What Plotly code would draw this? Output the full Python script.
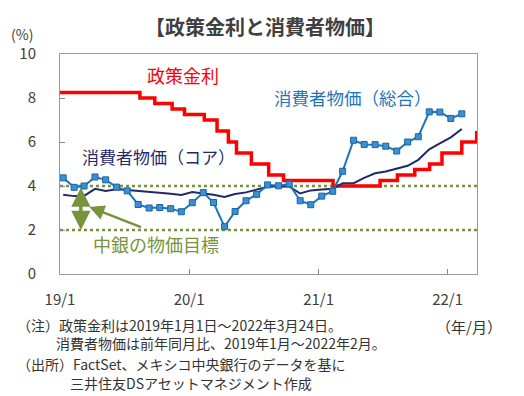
import plotly.graph_objects as go

# ---- data ----
cpi_months = [f"{y}-{m:02d}-10" for y in (2019, 2020, 2021) for m in range(1, 13)] + ["2022-01-10", "2022-02-10"]
cpi_headline = [4.37, 3.94, 4.00, 4.41, 4.28, 3.95, 3.78, 3.16, 3.00, 3.02, 2.97, 2.83,
                3.24, 3.70, 3.25, 2.15, 2.84, 3.33, 3.62, 4.05, 4.01, 4.09, 3.33, 3.15,
                3.54, 3.76, 4.67, 6.08, 5.89, 5.88, 5.81, 5.59, 6.00, 6.24, 7.37, 7.36,
                7.07, 7.28]
cpi_core = [3.60, 3.54, 3.55, 3.87, 3.77, 3.85, 3.82, 3.78, 3.75, 3.68, 3.65, 3.59,
            3.73, 3.66, 3.60, 3.50, 3.64, 3.71, 3.85, 3.97, 3.99, 3.98, 3.66, 3.80,
            3.84, 3.87, 4.12, 4.13, 4.37, 4.58, 4.66, 4.78, 4.92, 5.19, 5.67, 5.94,
            6.21, 6.59]
rate_dates = ["2019-01-01", "2019-08-15", "2019-09-26", "2019-11-14", "2019-12-19",
              "2020-02-13", "2020-03-20", "2020-04-21", "2020-05-14", "2020-06-25",
              "2020-08-13", "2020-09-24", "2021-02-11", "2021-06-24", "2021-08-12",
              "2021-09-30", "2021-11-11", "2021-12-16", "2022-02-10", "2022-03-24"]
rate_values = [8.25, 8.00, 7.75, 7.50, 7.25, 7.00, 6.50, 6.00, 5.50, 5.00,
               4.50, 4.25, 4.00, 4.25, 4.50, 4.75, 5.00, 5.50, 6.00, 6.50]
target_band = [2, 4]
x_start, x_end = "2019-01-01", "2022-03-25"
xtick_vals = ["2019-01-01", "2020-01-01", "2021-01-01", "2022-01-01"]
xtick_text = ["19/1", "20/1", "21/1", "22/1"]

FONT = "Noto Sans CJK JP"
GREEN = "#77933C"
RED = "#FF0000"
BLUE = "#1B75BB"
NAVY = "#1F2A6B"

# page pixels (the page body has an 8px margin)
OFF = 8
PAGE_W, PAGE_H = 524, 396
L, R, T, B = 60, 477, 54, 274
W, H = PAGE_W - OFF, PAGE_H - OFF


def px(x):
    return (x - L) / (R - L)


def py(y):
    return (B - y) / (B - T)


fig = go.Figure()

for lvl in target_band:
    fig.add_trace(go.Scatter(x=[x_start, x_end], y=[lvl, lvl], mode="lines",
                             line=dict(color=GREEN, width=2.5, dash="dot"),
                             hoverinfo="skip", showlegend=False))

fig.add_trace(go.Scatter(x=rate_dates, y=rate_values, mode="lines", line_shape="hv",
                         line=dict(color=RED, width=3.5), showlegend=False))
fig.add_trace(go.Scatter(x=cpi_months, y=cpi_core, mode="lines",
                         line=dict(color=NAVY, width=2), showlegend=False))
fig.add_trace(go.Scatter(x=cpi_months, y=cpi_headline, mode="lines+markers",
                         line=dict(color=BLUE, width=2),
                         marker=dict(symbol="square", size=6, color="#3E8FD0",
                                     line=dict(color="#1665A8", width=1)),
                         showlegend=False))


def label(text, x, y, size, color, xanchor="center"):
    return dict(text=text, x=px(x), y=py(y), xref="paper", yref="paper",
                xanchor=xanchor, yanchor="middle", showarrow=False,
                font=dict(size=size, color=color, family=FONT))


anns = [
    label("<b>【政策金利と消費者物価】</b>", 265, 27, 20, "#404040"),
    label("(%)", 22, 34, 14, "#404040"),
    label("政策金利", 183, 75, 18, RED),
    label("消費者物価（総合）", 353, 97, 17.5, BLUE),
    label("消費者物価（コア）", 158, 156, 17, NAVY),
    label("中銀の物価目標", 156, 244, 18, GREEN),
]
# arrows
anns.append(dict(x="2019-03-01", y=2.0, ax="2019-03-01", ay=4.0, xref="x", yref="y",
                 axref="x", ayref="y", text="", showarrow=True, arrowhead=2, arrowside="end+start",
                 arrowsize=1.1, arrowwidth=3.5, arrowcolor=GREEN))
anns.append(dict(x="2019-03-25", y=3.05, ax="2019-08-22", ay=2.1, xref="x", yref="y",
                 axref="x", ayref="y", text="", showarrow=True, arrowhead=2,
                 arrowsize=1.2, arrowwidth=2.5, arrowcolor=GREEN))
# notes
notes = [
    ("（注）政策金利は2019年1月1日～2022年3月24日。", 15, 325),
    ("消費者物価は前年同月比、2019年1月～2022年2月。", 54, 343),
    ("（出所）FactSet、メキシコ中央銀行のデータを基に", 15, 364),
    ("三井住友DSアセットマネジメント作成", 68, 383),
]
for txt, x0, y0 in notes:
    anns.append(label(txt, x0, y0, 14, "#333333", xanchor="left"))
anns.append(label("（年/月）", 504, 326, 15, "#333333", xanchor="right"))

fig.update_layout(
    width=W, height=H,
    margin=dict(l=L - OFF, r=PAGE_W - R, t=T - OFF, b=PAGE_H - B),
    paper_bgcolor="white", plot_bgcolor="white",
    font=dict(family=FONT, color="#404040"),
    annotations=anns,
    showlegend=False,
)
fig.update_xaxes(type="date", range=[x_start, x_end], tickvals=xtick_vals, ticktext=xtick_text,
                 ticks="inside", ticklen=5, tickcolor="#888888", showgrid=False, zeroline=False,
                 showline=True, linecolor="#999999", linewidth=1, mirror=True,
                 tickfont=dict(size=15, color="#404040", family=FONT), ticklabelstandoff=12)
fig.update_yaxes(range=[0, 10], dtick=2, ticks="inside", ticklen=5, tickcolor="#888888",
                 showgrid=False, zeroline=False, showline=True, linecolor="#999999", linewidth=1,
                 mirror=True, tickfont=dict(size=15, color="#404040", family=FONT),
                 ticklabelstandoff=20)

fig.write_html("out.html")
